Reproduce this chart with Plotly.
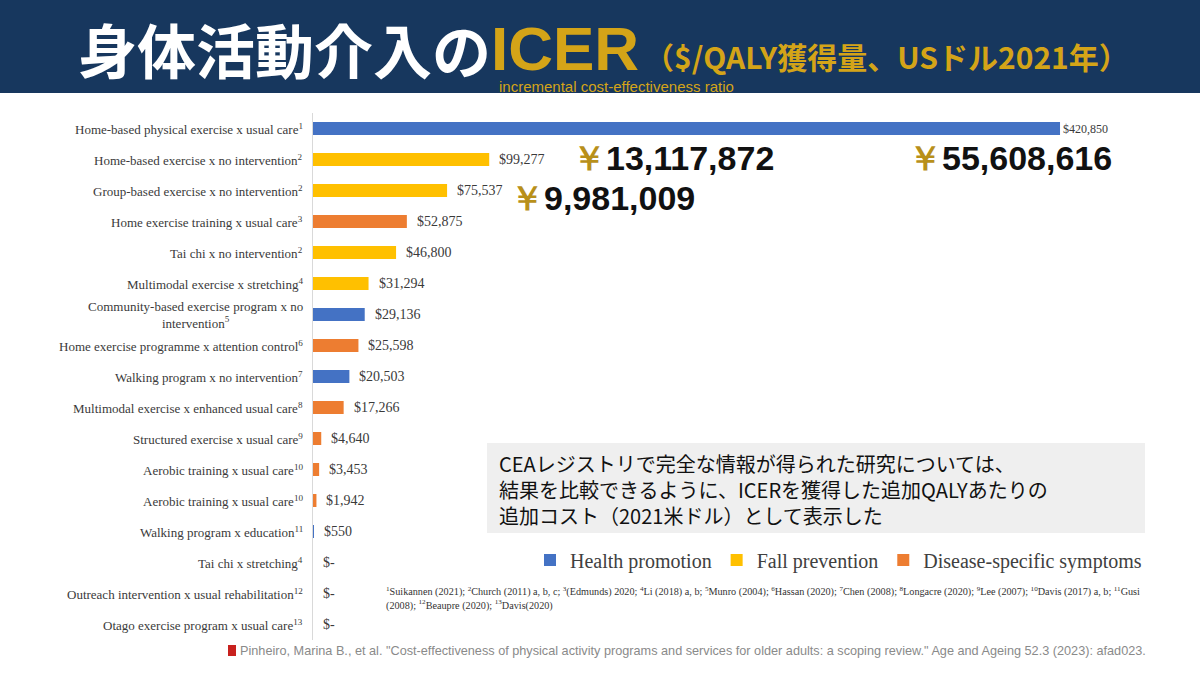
import plotly.graph_objects as go

# ---------------- data ----------------
labels = [
    "Home-based physical exercise x usual care<sup>1</sup>",
    "Home-based exercise x no intervention<sup>2</sup>",
    "Group-based exercise x no intervention<sup>2</sup>",
    "Home exercise training x usual care<sup>3</sup>",
    "Tai chi x no intervention<sup>2</sup>",
    "Multimodal exercise x stretching<sup>4</sup>",
    "Community-based exercise program x no<br>intervention<sup>5</sup>",
    "Home exercise programme x attention control<sup>6</sup>",
    "Walking program x no intervention<sup>7</sup>",
    "Multimodal exercise x enhanced usual care<sup>8</sup>",
    "Structured exercise x usual care<sup>9</sup>",
    "Aerobic training x usual care<sup>10</sup>",
    "Aerobic training x usual care<sup>10</sup>",
    "Walking program x education<sup>11</sup>",
    "Tai chi x stretching<sup>4</sup>",
    "Outreach intervention x usual rehabilitation<sup>12</sup>",
    "Otago exercise program x usual care<sup>13</sup>",
]
icer_usd = [420850, 99277, 75537, 52875, 46800, 31294, 29136, 25598, 20503,
            17266, 4640, 3453, 1942, 550, 0, 0, 0]
groups = ["Health promotion", "Fall prevention", "Fall prevention",
          "Disease-specific symptoms", "Fall prevention", "Fall prevention",
          "Health promotion", "Disease-specific symptoms", "Health promotion",
          "Disease-specific symptoms", "Disease-specific symptoms",
          "Disease-specific symptoms", "Disease-specific symptoms",
          "Health promotion", "Fall prevention", "Disease-specific symptoms",
          "Fall prevention"]
group_order = ["Health promotion", "Fall prevention", "Disease-specific symptoms"]
group_colors = {"Health promotion": "#4472C4",
                "Fall prevention": "#FFC000",
                "Disease-specific symptoms": "#ED7D31"}

yen_labels = ["13,117,872", "9,981,009", "55,608,616"]

title_main = "身体活動介入の"
title_icer = "ICER"
title_unit = "（$/QALY獲得量、USドル2021年）"
title_sub = "incremental cost-effectiveness ratio"
note_text = ("CEAレジストリで完全な情報が得られた研究については、<br>"
             "結果を比較できるように、ICERを獲得した追加QALYあたりの<br>"
             "追加コスト（2021米ドル）として表示した")
footnote = ("<sup>1</sup>Suikannen (2021); <sup>2</sup>Church (2011) a, b, c; <sup>3</sup>(Edmunds) 2020; "
            "<sup>4</sup>Li (2018) a, b; <sup>5</sup>Munro (2004); <sup>6</sup>Hassan (2020); "
            "<sup>7</sup>Chen (2008); <sup>8</sup>Longacre (2020); <sup>9</sup>Lee (2007); "
            "<sup>10</sup>Davis (2017) a, b; <sup>11</sup>Gusi<br>(2008); <sup>12</sup>Beaupre (2020); "
            "<sup>13</sup>Davis(2020)")
citation = ('Pinheiro, Marina B., et al. "Cost-effectiveness of physical activity programs and '
            'services for older adults: a scoping review." Age and Ageing 52.3 (2023): afad023.')

# ---------------- figure ----------------
W, H = 1200, 675
def px(x):
    return x / W
def py(y):
    return 1 - y / H

positions = list(range(len(labels)))
fig = go.Figure()
for g in group_order:
    xs = [v for v, gg in zip(icer_usd, groups) if gg == g]
    ys = [p for p, gg in zip(positions, groups) if gg == g]
    fig.add_trace(go.Bar(x=xs, y=ys, orientation="h", name=g,
                         marker=dict(color=group_colors[g], line=dict(width=0)),
                         width=0.42, hoverinfo="skip"))

serif = "Liberation Serif, Times New Roman, serif"
sans = "Liberation Sans, Arial, sans-serif"
ann = []
# category labels
for p, lab in zip(positions, labels):
    ann.append(dict(x=px(305), xref="paper", y=p, yref="y", text=lab,
                    xanchor="right", yanchor="middle", align="center",
                    showarrow=False, font=dict(family=serif, size=13, color="#3a3a3a")))
# value labels
for i, (p, v) in enumerate(zip(positions, icer_usd)):
    t = f"${v:,}" if v else "$-"
    ann.append(dict(x=v, xref="x", y=p, yref="y", text=t, xanchor="left",
                    yanchor="middle", showarrow=False,
                    xshift=1 if i == 0 else 8,
                    font=dict(family=serif, size=12 if i == 0 else 14, color="#3a3a3a")))

# yen annotations
yen_pos = [(570, 158), (508, 198), (906, 158)]
for (x, y), t in zip(yen_pos, yen_labels):
    ann.append(dict(x=px(x), y=py(y), xref="paper", yref="paper", xanchor="left",
                    yanchor="middle", showarrow=False,
                    text=f"<span style='color:#B8901A'>￥</span>{t}",
                    font=dict(family=sans, size=34, color="#111111", weight="bold")))

# title
ann.append(dict(x=px(76), y=py(48), xref="paper", yref="paper", xanchor="left",
                yanchor="middle", showarrow=False, text=f"<b>{title_main}</b>",
                font=dict(family="Noto Sans CJK JP", size=59, color="white")))
ann.append(dict(x=px(489), y=py(49), xref="paper", yref="paper", xanchor="left",
                yanchor="middle", showarrow=False, text=f"<b>{title_icer}</b>",
                font=dict(family=sans, size=62, color="#D4A418")))
ann.append(dict(x=px(642), y=py(56), xref="paper", yref="paper", xanchor="left",
                yanchor="middle", showarrow=False, text=f"<b>{title_unit}</b>",
                font=dict(family="Noto Sans CJK JP", size=30, color="#D4A418")))
ann.append(dict(x=px(497), y=py(86), xref="paper", yref="paper", xanchor="left",
                yanchor="middle", showarrow=False, text=title_sub,
                font=dict(family=sans, size=15, color="#D4A418")))

# note box text
ann.append(dict(x=px(497), y=py(489), xref="paper", yref="paper", xanchor="left",
                yanchor="middle", align="left", showarrow=False, text=note_text,
                font=dict(family="Noto Sans CJK JP", size=20, color="#111111")))
# footnote
ann.append(dict(x=px(384), y=py(583), xref="paper", yref="paper", xanchor="left",
                yanchor="top", align="left", showarrow=False, text=footnote,
                font=dict(family=serif, size=10.2, color="#333333")))
# citation
ann.append(dict(x=px(238), y=py(651), xref="paper", yref="paper", xanchor="left",
                yanchor="middle", showarrow=False, text=citation,
                font=dict(family=sans, size=12.7, color="#8a8a8a")))

shapes = [
    dict(type="rect", xref="paper", yref="paper", x0=0, x1=1, y0=py(93), y1=1,
         fillcolor="#17375E", line=dict(width=0), layer="below"),
    dict(type="rect", xref="paper", yref="paper", x0=px(487), x1=px(1145),
         y0=py(533), y1=py(443), fillcolor="#EFEFEF", line=dict(width=0), layer="below"),
    dict(type="rect", xref="paper", yref="paper", x0=px(228), x1=px(236),
         y0=py(656), y1=py(645), fillcolor="#C8211E", line=dict(width=0)),
]

x_max = 465900
fig.update_layout(
    width=W, height=H, autosize=False,
    margin=dict(l=0, r=0, t=0, b=0),
    paper_bgcolor="white", plot_bgcolor="white",
    barmode="overlay",
    xaxis=dict(domain=[px(313), px(1140)], range=[0, x_max], visible=False,
               showgrid=False, zeroline=False),
    yaxis=dict(domain=[py(640), py(113)], range=[16.5, -0.5], showgrid=False,
               zeroline=False, showticklabels=False, ticks="",
               showline=True, linecolor="#D9D9D9", linewidth=1),
    showlegend=True,
    legend=dict(orientation="h", x=px(530), y=py(560), xanchor="left", yanchor="middle",
                font=dict(family=serif, size=20, color="#404040"),
                bgcolor="rgba(0,0,0,0)", itemclick=False, itemdoubleclick=False,
                traceorder="normal"),
    annotations=ann, shapes=shapes,
)

fig.write_html("out.html", config={"displayModeBar": False},
               post_script="document.body.style.margin='0';document.body.style.padding='0';")
